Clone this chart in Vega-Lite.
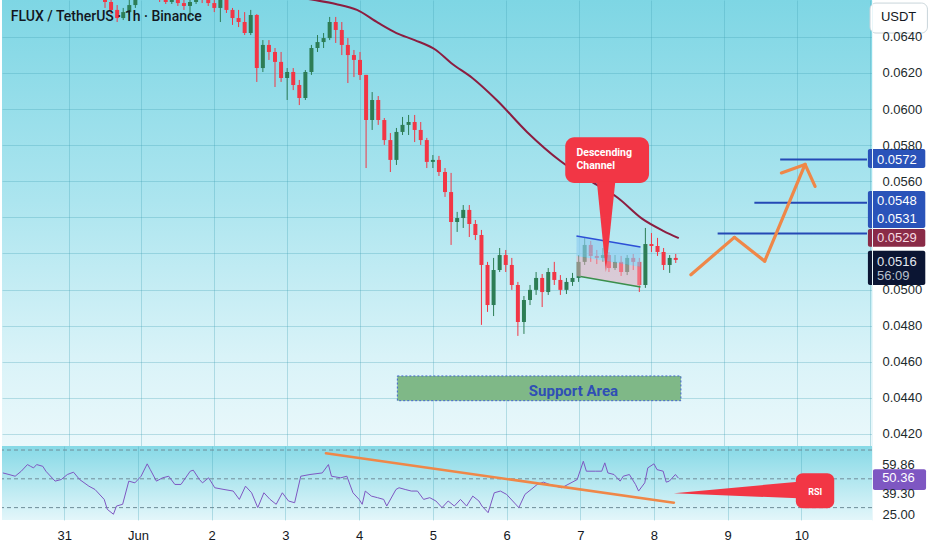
{
  "$schema": "https://vega.github.io/schema/vega-lite/v6.json",
  "background": "#ffffff",
  "padding": 0,
  "spacing": 0,
  "title": {"text": "FLUX / TetherUS · 1h · Binance", "anchor": "start", "frame": "bounds", "orient": "top", "offset": -24, "baseline": "top", "dx": 10, "font": "Roboto", "fontSize": 14, "fontWeight": 500, "color": "#131722"},
  "config": {
    "view": {"stroke": null},
    "axis": {"ticks": false, "tickSize": 0, "domain": false, "labelFont": "Liberation Sans", "labelFontSize": 13, "labelColor": "#1c2a2c", "gridColor": "#3f9fb3", "gridOpacity": 0.3, "labelOverlap": false}
  },
  "datasets": {
    "candles": [
      {"t":"2025-05-31T12:00Z","o":0.06659,"h":0.06687,"l":0.0656,"c":0.06593},
      {"t":"2025-05-31T14:00Z","o":0.06593,"h":0.06632,"l":0.06526,"c":0.06549},
      {"t":"2025-05-31T16:00Z","o":0.06549,"h":0.06576,"l":0.06482,"c":0.06504},
      {"t":"2025-05-31T18:00Z","o":0.06504,"h":0.0656,"l":0.06493,"c":0.06537},
      {"t":"2025-05-31T20:00Z","o":0.06537,"h":0.06604,"l":0.06521,"c":0.06576},
      {"t":"2025-05-31T22:00Z","o":0.06576,"h":0.0667,"l":0.0656,"c":0.06632},
      {"t":"2025-06-01T00:00Z","o":0.06632,"h":0.06704,"l":0.06615,"c":0.0667},
      {"t":"2025-06-01T02:00Z","o":0.0667,"h":0.06715,"l":0.06621,"c":0.06648},
      {"t":"2025-06-01T04:00Z","o":0.06648,"h":0.06682,"l":0.06604,"c":0.06626},
      {"t":"2025-06-01T06:00Z","o":0.06626,"h":0.06659,"l":0.06593,"c":0.06615},
      {"t":"2025-06-01T08:00Z","o":0.06615,"h":0.06637,"l":0.06582,"c":0.06593},
      {"t":"2025-06-01T10:00Z","o":0.06593,"h":0.06648,"l":0.06582,"c":0.06621},
      {"t":"2025-06-01T12:00Z","o":0.06621,"h":0.06637,"l":0.06571,"c":0.06587},
      {"t":"2025-06-01T14:00Z","o":0.06587,"h":0.06615,"l":0.06549,"c":0.06571},
      {"t":"2025-06-01T16:00Z","o":0.06571,"h":0.06615,"l":0.0651,"c":0.06593},
      {"t":"2025-06-01T18:00Z","o":0.06593,"h":0.06648,"l":0.06582,"c":0.06626},
      {"t":"2025-06-01T20:00Z","o":0.06626,"h":0.06648,"l":0.06587,"c":0.06604},
      {"t":"2025-06-01T22:00Z","o":0.06604,"h":0.06626,"l":0.06571,"c":0.06587},
      {"t":"2025-06-02T00:00Z","o":0.06587,"h":0.06615,"l":0.06537,"c":0.0656},
      {"t":"2025-06-02T02:00Z","o":0.0656,"h":0.06626,"l":0.06482,"c":0.06604},
      {"t":"2025-06-02T04:00Z","o":0.06604,"h":0.06626,"l":0.06532,"c":0.06549},
      {"t":"2025-06-02T06:00Z","o":0.06549,"h":0.0656,"l":0.06466,"c":0.06504},
      {"t":"2025-06-02T08:00Z","o":0.06504,"h":0.06549,"l":0.06454,"c":0.06482},
      {"t":"2025-06-02T10:00Z","o":0.06482,"h":0.06537,"l":0.0641,"c":0.06421},
      {"t":"2025-06-02T12:00Z","o":0.06421,"h":0.06549,"l":0.0641,"c":0.06521},
      {"t":"2025-06-02T14:00Z","o":0.06521,"h":0.06526,"l":0.0615,"c":0.06227},
      {"t":"2025-06-02T16:00Z","o":0.06227,"h":0.06382,"l":0.06205,"c":0.06355},
      {"t":"2025-06-02T18:00Z","o":0.06355,"h":0.06382,"l":0.06272,"c":0.06316},
      {"t":"2025-06-02T20:00Z","o":0.06316,"h":0.06338,"l":0.06122,"c":0.06261},
      {"t":"2025-06-02T22:00Z","o":0.06261,"h":0.06316,"l":0.0615,"c":0.06172},
      {"t":"2025-06-03T00:00Z","o":0.06172,"h":0.06227,"l":0.0605,"c":0.06205},
      {"t":"2025-06-03T02:00Z","o":0.06205,"h":0.06227,"l":0.06105,"c":0.06133},
      {"t":"2025-06-03T04:00Z","o":0.06133,"h":0.06161,"l":0.06022,"c":0.06061},
      {"t":"2025-06-03T06:00Z","o":0.06061,"h":0.06216,"l":0.0605,"c":0.06205},
      {"t":"2025-06-03T08:00Z","o":0.06205,"h":0.06355,"l":0.06189,"c":0.06338},
      {"t":"2025-06-03T10:00Z","o":0.06338,"h":0.0641,"l":0.06316,"c":0.06371},
      {"t":"2025-06-03T12:00Z","o":0.06371,"h":0.06421,"l":0.06338,"c":0.06393},
      {"t":"2025-06-03T14:00Z","o":0.06393,"h":0.0651,"l":0.06382,"c":0.06482},
      {"t":"2025-06-03T16:00Z","o":0.06482,"h":0.0651,"l":0.06366,"c":0.06438},
      {"t":"2025-06-03T18:00Z","o":0.06438,"h":0.06482,"l":0.06299,"c":0.06355},
      {"t":"2025-06-03T20:00Z","o":0.06355,"h":0.06393,"l":0.06144,"c":0.06299},
      {"t":"2025-06-03T22:00Z","o":0.06299,"h":0.06327,"l":0.06177,"c":0.06272},
      {"t":"2025-06-04T00:00Z","o":0.06272,"h":0.06316,"l":0.06161,"c":0.06189},
      {"t":"2025-06-04T02:00Z","o":0.06189,"h":0.06189,"l":0.05673,"c":0.05939},
      {"t":"2025-06-04T04:00Z","o":0.05939,"h":0.06094,"l":0.05884,"c":0.0605},
      {"t":"2025-06-04T06:00Z","o":0.0605,"h":0.06072,"l":0.05912,"c":0.05939},
      {"t":"2025-06-04T08:00Z","o":0.05939,"h":0.0595,"l":0.05801,"c":0.05828},
      {"t":"2025-06-04T10:00Z","o":0.05828,"h":0.05867,"l":0.05651,"c":0.05718},
      {"t":"2025-06-04T12:00Z","o":0.05718,"h":0.05895,"l":0.0569,"c":0.05873},
      {"t":"2025-06-04T14:00Z","o":0.05873,"h":0.05956,"l":0.05856,"c":0.05912},
      {"t":"2025-06-04T16:00Z","o":0.05912,"h":0.05967,"l":0.05856,"c":0.05928},
      {"t":"2025-06-04T18:00Z","o":0.05928,"h":0.05967,"l":0.05817,"c":0.05884},
      {"t":"2025-06-04T20:00Z","o":0.05884,"h":0.05928,"l":0.05801,"c":0.05828},
      {"t":"2025-06-04T22:00Z","o":0.05828,"h":0.0584,"l":0.05673,"c":0.05707},
      {"t":"2025-06-05T00:00Z","o":0.05707,"h":0.05745,"l":0.05673,"c":0.05718},
      {"t":"2025-06-05T02:00Z","o":0.05718,"h":0.0574,"l":0.05629,"c":0.05651},
      {"t":"2025-06-05T04:00Z","o":0.05651,"h":0.05673,"l":0.05513,"c":0.0554},
      {"t":"2025-06-05T06:00Z","o":0.0554,"h":0.05646,"l":0.05247,"c":0.05374},
      {"t":"2025-06-05T08:00Z","o":0.05374,"h":0.0543,"l":0.05319,"c":0.05396},
      {"t":"2025-06-05T10:00Z","o":0.05396,"h":0.05468,"l":0.05341,"c":0.05441},
      {"t":"2025-06-05T12:00Z","o":0.05441,"h":0.05468,"l":0.05291,"c":0.05363},
      {"t":"2025-06-05T14:00Z","o":0.05363,"h":0.05385,"l":0.05274,"c":0.05302},
      {"t":"2025-06-05T16:00Z","o":0.05302,"h":0.0533,"l":0.04804,"c":0.05136},
      {"t":"2025-06-05T18:00Z","o":0.05136,"h":0.05153,"l":0.04876,"c":0.04914},
      {"t":"2025-06-05T20:00Z","o":0.04914,"h":0.05175,"l":0.04853,"c":0.05108},
      {"t":"2025-06-05T22:00Z","o":0.05108,"h":0.0523,"l":0.05097,"c":0.05191},
      {"t":"2025-06-06T00:00Z","o":0.05191,"h":0.05219,"l":0.05097,"c":0.05136},
      {"t":"2025-06-06T02:00Z","o":0.05136,"h":0.05175,"l":0.04998,"c":0.05025},
      {"t":"2025-06-06T04:00Z","o":0.05025,"h":0.05042,"l":0.04743,"c":0.0482},
      {"t":"2025-06-06T06:00Z","o":0.0482,"h":0.04964,"l":0.04754,"c":0.04942},
      {"t":"2025-06-06T08:00Z","o":0.04942,"h":0.05025,"l":0.04914,"c":0.04998},
      {"t":"2025-06-06T10:00Z","o":0.04998,"h":0.05097,"l":0.0497,"c":0.05064},
      {"t":"2025-06-06T12:00Z","o":0.05064,"h":0.05086,"l":0.04903,"c":0.04986},
      {"t":"2025-06-06T14:00Z","o":0.04986,"h":0.05119,"l":0.0497,"c":0.05097},
      {"t":"2025-06-06T16:00Z","o":0.05097,"h":0.05153,"l":0.05025,"c":0.05053},
      {"t":"2025-06-06T18:00Z","o":0.05053,"h":0.0508,"l":0.0497,"c":0.04998},
      {"t":"2025-06-06T20:00Z","o":0.04998,"h":0.05064,"l":0.04975,"c":0.05042},
      {"t":"2025-06-06T22:00Z","o":0.05042,"h":0.05092,"l":0.0502,"c":0.05064},
      {"t":"2025-06-07T00:00Z","o":0.05064,"h":0.05191,"l":0.05042,"c":0.05153},
      {"t":"2025-06-07T02:00Z","o":0.05153,"h":0.05286,"l":0.05136,"c":0.05247},
      {"t":"2025-06-07T04:00Z","o":0.05247,"h":0.05269,"l":0.05153,"c":0.05186},
      {"t":"2025-06-07T06:00Z","o":0.05186,"h":0.05219,"l":0.05141,"c":0.05175},
      {"t":"2025-06-07T08:00Z","o":0.05175,"h":0.0523,"l":0.05153,"c":0.05191},
      {"t":"2025-06-07T10:00Z","o":0.05191,"h":0.05208,"l":0.05097,"c":0.05119},
      {"t":"2025-06-07T12:00Z","o":0.05119,"h":0.05191,"l":0.05108,"c":0.05153},
      {"t":"2025-06-07T14:00Z","o":0.05153,"h":0.05186,"l":0.05075,"c":0.05097},
      {"t":"2025-06-07T16:00Z","o":0.05097,"h":0.05191,"l":0.0508,"c":0.05175},
      {"t":"2025-06-07T18:00Z","o":0.05175,"h":0.05197,"l":0.05108,"c":0.05153},
      {"t":"2025-06-07T20:00Z","o":0.05153,"h":0.05175,"l":0.04986,"c":0.05025},
      {"t":"2025-06-07T22:00Z","o":0.05025,"h":0.05341,"l":0.05009,"c":0.05252},
      {"t":"2025-06-08T00:00Z","o":0.05252,"h":0.05313,"l":0.05208,"c":0.05241},
      {"t":"2025-06-08T02:00Z","o":0.05241,"h":0.05286,"l":0.05186,"c":0.05208},
      {"t":"2025-06-08T04:00Z","o":0.05208,"h":0.0523,"l":0.05108,"c":0.05136},
      {"t":"2025-06-08T06:00Z","o":0.05136,"h":0.05191,"l":0.05092,"c":0.05175},
      {"t":"2025-06-08T08:00Z","o":0.05175,"h":0.05197,"l":0.05147,"c":0.05164}
    ],
    "ma": [
      {"t":"2025-06-01T21:00Z","p":0.06682},
      {"t":"2025-06-02T16:00Z","p":0.06643},
      {"t":"2025-06-03T09:00Z","p":0.06604},
      {"t":"2025-06-03T16:00Z","p":0.06582},
      {"t":"2025-06-03T23:00Z","p":0.06549},
      {"t":"2025-06-04T06:00Z","p":0.06477},
      {"t":"2025-06-04T12:00Z","p":0.06421},
      {"t":"2025-06-04T18:00Z","p":0.06382},
      {"t":"2025-06-05T01:00Z","p":0.06327},
      {"t":"2025-06-05T06:00Z","p":0.06255},
      {"t":"2025-06-05T13:00Z","p":0.06172},
      {"t":"2025-06-05T21:00Z","p":0.0605},
      {"t":"2025-06-06T07:00Z","p":0.05873},
      {"t":"2025-06-06T18:00Z","p":0.05712},
      {"t":"2025-06-07T04:00Z","p":0.05601},
      {"t":"2025-06-07T13:00Z","p":0.05507},
      {"t":"2025-06-07T21:00Z","p":0.05391},
      {"t":"2025-06-08T04:00Z","p":0.05324},
      {"t":"2025-06-08T09:00Z","p":0.05285}
    ],
    "channel": [
      {"t":"2025-06-06T23:18Z","top":0.05297,"mid":0.05186,"bot":0.05075},
      {"t":"2025-06-07T20:24Z","top":0.05236,"mid":0.05125,"bot":0.05014}
    ],
    "segments": [
      {"kind":"chanTop","t1":"2025-06-06T23:18Z","p1":0.05297,"t2":"2025-06-07T20:24Z","p2":0.05236},
      {"kind":"chanBot","t1":"2025-06-07T00:36Z","p1":0.05072,"t2":"2025-06-07T20:24Z","p2":0.05014},
      {"kind":"target","t1":"2025-06-09T18:24Z","p1":0.0572,"t2":"2025-06-10T23:00Z","p2":0.0572},
      {"kind":"target","t1":"2025-06-09T09:54Z","p1":0.0548,"t2":"2025-06-10T23:00Z","p2":0.0548},
      {"kind":"target","t1":"2025-06-08T21:48Z","p1":0.0531,"t2":"2025-06-10T23:00Z","p2":0.0531},
      {"kind":"path","t1":"2025-06-08T13:00Z","p1":0.05082,"t2":"2025-06-09T03:18Z","p2":0.05289},
      {"kind":"path","t1":"2025-06-09T03:18Z","p1":0.05289,"t2":"2025-06-09T13:18Z","p2":0.05157},
      {"kind":"path","t1":"2025-06-09T13:18Z","p1":0.05157,"t2":"2025-06-10T02:36Z","p2":0.05693},
      {"kind":"path","t1":"2025-06-09T18:48Z","p1":0.05646,"t2":"2025-06-10T02:36Z","p2":0.05693},
      {"kind":"path","t1":"2025-06-10T02:36Z","p1":0.05693,"t2":"2025-06-10T05:54Z","p2":0.05571}
    ],
    "boxes": [
      {"kind":"support","t1":"2025-06-04T12:18Z","t2":"2025-06-08T09:42Z","p1":0.04521,"p2":0.04384},
      {"kind":"callout","t1":"2025-06-06T19:36Z","t2":"2025-06-07T23:12Z","p1":0.05843,"p2":0.0559}
    ],
    "pointer": [
      {"t":"2025-06-07T06:00Z","a":0.056,"b":0.056},
      {"t":"2025-06-07T09:00Z","a":0.056,"b":0.05097},
      {"t":"2025-06-07T12:06Z","a":0.056,"b":0.056}
    ],
    "notes": [
      {"kind":"callout","t":"2025-06-06T23:18Z","p":0.05755,"text":"Descending"},
      {"kind":"callout","t":"2025-06-06T23:18Z","p":0.05686,"text":"Channel"},
      {"kind":"support","t":"2025-06-06T22:18Z","p":0.04438,"text":"Support Area"}
    ],
    "tags": [
      {"kind":"usdt","p1":0.06587,"p2":0.06421},
      {"kind":"target","p1":0.05779,"p2":0.05673},
      {"kind":"target","p1":0.05546,"p2":0.05341},
      {"kind":"ma","p1":0.05335,"p2":0.05237},
      {"kind":"price","p1":0.05215,"p2":0.05025}
    ],
    "tagText": [
      {"kind":"usdt","p":0.0651,"text":"USDT"},
      {"kind":"target","p":0.0572,"text":"0.0572"},
      {"kind":"target","p":0.05492,"text":"0.0548"},
      {"kind":"target","p":0.05391,"text":"0.0531"},
      {"kind":"ma","p":0.05287,"text":"0.0529"},
      {"kind":"price","p":0.05154,"text":"0.0516"},
      {"kind":"timer","p":0.05077,"text":"56:09"}
    ],
    "rsi": [
      {"t":"2025-05-30T04:00Z","v":54.1},{"t":"2025-05-30T06:00Z","v":53.0},{"t":"2025-05-30T08:00Z","v":51.8},
      {"t":"2025-05-30T10:00Z","v":55.3},{"t":"2025-05-30T12:00Z","v":59.9},{"t":"2025-05-30T13:00Z","v":58.7},
      {"t":"2025-05-30T14:00Z","v":57.6},{"t":"2025-05-30T15:00Z","v":59.9},{"t":"2025-05-30T17:00Z","v":58.7},
      {"t":"2025-05-30T18:00Z","v":55.3},{"t":"2025-05-30T21:00Z","v":48.4},{"t":"2025-05-30T23:00Z","v":49.5},
      {"t":"2025-05-31T01:00Z","v":53.0},{"t":"2025-05-31T03:00Z","v":54.6},{"t":"2025-05-31T05:00Z","v":49.5},
      {"t":"2025-05-31T08:00Z","v":44.9},{"t":"2025-05-31T10:00Z","v":42.6},{"t":"2025-05-31T13:00Z","v":35.7},
      {"t":"2025-05-31T14:00Z","v":28.8},{"t":"2025-05-31T16:00Z","v":25.4},{"t":"2025-05-31T17:00Z","v":31.1},
      {"t":"2025-05-31T19:00Z","v":32.3},{"t":"2025-05-31T21:00Z","v":48.4},{"t":"2025-05-31T23:00Z","v":47.2},
      {"t":"2025-06-01T01:00Z","v":51.8},{"t":"2025-06-01T03:00Z","v":60.4},{"t":"2025-06-01T04:00Z","v":56.4},
      {"t":"2025-06-01T06:00Z","v":48.4},{"t":"2025-06-01T08:00Z","v":50.7},{"t":"2025-06-01T10:00Z","v":51.8},
      {"t":"2025-06-01T12:00Z","v":46.1},{"t":"2025-06-01T14:00Z","v":46.1},{"t":"2025-06-01T17:00Z","v":55.3},
      {"t":"2025-06-01T18:00Z","v":56.0},{"t":"2025-06-01T20:00Z","v":49.5},{"t":"2025-06-01T21:00Z","v":47.2},
      {"t":"2025-06-01T23:00Z","v":50.7},{"t":"2025-06-02T01:00Z","v":43.8},{"t":"2025-06-02T04:00Z","v":42.6},
      {"t":"2025-06-02T07:00Z","v":41.5},{"t":"2025-06-02T09:00Z","v":35.7},{"t":"2025-06-02T11:00Z","v":44.9},
      {"t":"2025-06-02T13:00Z","v":40.3},{"t":"2025-06-02T15:00Z","v":30.0},{"t":"2025-06-02T17:00Z","v":40.3},
      {"t":"2025-06-02T19:00Z","v":35.7},{"t":"2025-06-02T21:00Z","v":32.3},{"t":"2025-06-02T23:00Z","v":40.3},
      {"t":"2025-06-03T01:00Z","v":34.6},{"t":"2025-06-03T03:00Z","v":33.4},{"t":"2025-06-03T05:00Z","v":51.8},
      {"t":"2025-06-03T08:00Z","v":53.0},{"t":"2025-06-03T12:00Z","v":54.1},{"t":"2025-06-03T14:00Z","v":59.9},
      {"t":"2025-06-03T15:00Z","v":51.8},{"t":"2025-06-03T18:00Z","v":50.7},{"t":"2025-06-03T20:00Z","v":51.8},
      {"t":"2025-06-03T22:00Z","v":40.3},{"t":"2025-06-04T00:00Z","v":35.7},{"t":"2025-06-04T01:00Z","v":32.3},
      {"t":"2025-06-04T02:00Z","v":41.5},{"t":"2025-06-04T04:00Z","v":38.0},{"t":"2025-06-04T06:00Z","v":36.9},
      {"t":"2025-06-04T08:00Z","v":35.7},{"t":"2025-06-04T09:00Z","v":31.1},{"t":"2025-06-04T12:00Z","v":42.6},
      {"t":"2025-06-04T13:00Z","v":43.8},{"t":"2025-06-04T15:00Z","v":42.6},{"t":"2025-06-04T17:00Z","v":41.5},
      {"t":"2025-06-04T19:00Z","v":41.5},{"t":"2025-06-04T21:00Z","v":35.7},{"t":"2025-06-04T23:00Z","v":36.9},
      {"t":"2025-06-05T01:00Z","v":34.6},{"t":"2025-06-05T03:00Z","v":30.0},{"t":"2025-06-05T05:00Z","v":34.6},
      {"t":"2025-06-05T07:00Z","v":31.1},{"t":"2025-06-05T09:00Z","v":35.7},{"t":"2025-06-05T11:00Z","v":31.1},
      {"t":"2025-06-05T13:00Z","v":38.0},{"t":"2025-06-05T15:00Z","v":34.6},{"t":"2025-06-05T16:00Z","v":31.1},
      {"t":"2025-06-05T18:00Z","v":26.5},{"t":"2025-06-05T20:00Z","v":40.3},{"t":"2025-06-05T22:00Z","v":41.5},
      {"t":"2025-06-06T00:00Z","v":39.2},{"t":"2025-06-06T02:00Z","v":34.6},{"t":"2025-06-06T04:00Z","v":30.0},
      {"t":"2025-06-06T06:00Z","v":39.2},{"t":"2025-06-06T08:00Z","v":42.6},{"t":"2025-06-06T10:00Z","v":46.1},
      {"t":"2025-06-06T12:00Z","v":47.7},{"t":"2025-06-06T14:00Z","v":46.1},{"t":"2025-06-06T16:00Z","v":44.9},
      {"t":"2025-06-06T18:00Z","v":43.8},{"t":"2025-06-06T20:00Z","v":46.1},{"t":"2025-06-06T21:00Z","v":47.2},
      {"t":"2025-06-06T23:00Z","v":49.5},{"t":"2025-06-07T01:00Z","v":62.2},{"t":"2025-06-07T02:00Z","v":55.3},
      {"t":"2025-06-07T05:00Z","v":55.3},{"t":"2025-06-07T07:00Z","v":55.3},{"t":"2025-06-07T08:00Z","v":61.1},
      {"t":"2025-06-07T09:00Z","v":54.1},{"t":"2025-06-07T11:00Z","v":53.0},{"t":"2025-06-07T13:00Z","v":48.4},
      {"t":"2025-06-07T14:00Z","v":51.8},{"t":"2025-06-07T16:00Z","v":53.0},{"t":"2025-06-07T17:00Z","v":49.5},
      {"t":"2025-06-07T18:00Z","v":46.1},{"t":"2025-06-07T19:00Z","v":41.5},{"t":"2025-06-07T21:00Z","v":47.2},
      {"t":"2025-06-07T22:00Z","v":57.6},{"t":"2025-06-08T00:00Z","v":60.4},{"t":"2025-06-08T01:00Z","v":56.4},
      {"t":"2025-06-08T03:00Z","v":55.3},{"t":"2025-06-08T04:00Z","v":47.7},{"t":"2025-06-08T05:00Z","v":48.4},
      {"t":"2025-06-08T07:00Z","v":53.0},{"t":"2025-06-08T08:00Z","v":50.4}
    ],
    "rsiLevels": [{"v":70},{"v":50},{"v":30}],
    "rsiTrend": [{"t1":"2025-06-03T13:12Z","v1":67.73,"t2":"2025-06-08T06:30Z","v2":33.43}],
    "rsiWedge": [
      {"t":"2025-06-08T06:30Z","a":39.95,"b":39.95},
      {"t":"2025-06-09T23:00Z","a":48.0,"b":36.48}
    ],
    "rsiBox": [{"t1":"2025-06-09T22:12Z","t2":"2025-06-10T10:42Z","v1":53.84,"v2":29.54}],
    "rsiNote": [{"t":"2025-06-10T04:30Z","v":41.06,"text":"RSI"}],
    "rsiTag": [{"v1":56.62,"v2":42.24,"v":50.36,"text":"50.36"}],
    "rsiLabels": [{"v":59.86,"text":"59.86"},{"v":39.3,"text":"39.30"}]
  },
  "vconcat": [
    {
      "width": 870,
      "height": 446,
      "view": {"stroke": null, "fill": {"gradient":"linear","x1":0,"y1":0,"x2":0,"y2":1,"stops":[{"offset":0,"color":"#7ed6e4"},{"offset":0.45,"color":"#ace5ef"},{"offset":0.8,"color":"#d9f3f8"},{"offset":1,"color":"#eaf8fb"}]}},
      "resolve": {"axis": {"y": "independent"}},
      "layer": [
        {
          "mark": {"type": "rect", "color": {"gradient":"linear","x1":0,"y1":0,"x2":0,"y2":1,"stops":[{"offset":0,"color":"#7ed6e4"},{"offset":0.45,"color":"#ace5ef"},{"offset":0.8,"color":"#d9f3f8"},{"offset":1,"color":"#eaf8fb"}]}},
          "encoding": {
            "x": {"datum": {"year":2025,"month":6,"date":10,"hours":23,"utc":true}, "type": "temporal", "title": null,
              "scale": {"type": "utc", "domain": [{"year":2025,"month":5,"date":30,"hours":3,"minutes":43,"utc":true}, {"year":2025,"month":6,"date":10,"hours":23,"utc":true}]},
              "axis": {"orient": "bottom", "labels": false, "grid": true, "ticks": false, "domain": false, "title": null, "tickCount": {"interval": "day", "step": 1}}},
            "x2": {"datum": {"year":2025,"month":6,"date":11,"hours":19,"minutes":12,"utc":true}},
            "y": {"datum": 0.04133, "type": "quantitative", "title": null,
              "scale": {"domain": [0.04133, 0.06604], "nice": false, "zero": false},
              "axis": {"orient": "right", "grid": false, "zindex": 1, "title": null, "values": [0.042,0.044,0.046,0.048,0.05,0.056,0.058,0.06,0.062,0.064], "format": ".4f", "labelPadding": 10, "domain": true, "domainColor": "#eaf7fa", "domainWidth": 1}},
            "y2": {"datum": 0.06604}
          }
        },
        {
          "data": {"name": "candles"},
          "mark": {"type": "rule", "clip": true, "strokeWidth": 1},
          "encoding": {
            "x": {"field": "t", "type": "temporal", "title": null},
            "y": {"field": "l", "type": "quantitative", "title": null,
              "axis": {"orient": "left", "labels": false, "ticks": false, "domain": false, "grid": true, "title": null, "values": [0.042,0.044,0.046,0.048,0.05,0.052,0.054,0.056,0.058,0.06,0.062,0.064]}},
            "y2": {"field": "h"},
            "color": {"condition": {"test": "datum.c >= datum.o", "value": "#2d7d55"}, "value": "#f23645"}
          }
        },
        {
          "data": {"name": "candles"},
          "mark": {"type": "bar", "clip": true, "width": 4},
          "encoding": {
            "x": {"field": "t", "type": "temporal", "title": null},
            "y": {"field": "o", "type": "quantitative", "axis": null},
            "y2": {"field": "c"},
            "color": {"condition": {"test": "datum.c >= datum.o", "value": "#2d7d55"}, "value": "#f23645"}
          }
        },
        {
          "data": {"name": "ma"},
          "mark": {"type": "line", "clip": true, "interpolate": "monotone", "color": "#8c1d40", "strokeWidth": 2},
          "encoding": {
            "x": {"field": "t", "type": "temporal", "title": null},
            "y": {"field": "p", "type": "quantitative", "axis": null}
          }
        },
        {
          "mark": {"type": "rule", "color": "#1b2230", "strokeDash": [1.5, 3], "strokeWidth": 1.3},
          "encoding": {
            "y": {"datum": 0.0516, "type": "quantitative", "axis": null}
          }
        },
        {
          "data": {"name": "channel"},
          "mark": {"type": "area", "color": "#8fcdf0", "opacity": 0.65},
          "encoding": {
            "x": {"field": "t", "type": "temporal", "title": null},
            "y": {"field": "top", "type": "quantitative", "axis": null},
            "y2": {"field": "mid"}
          }
        },
        {
          "data": {"name": "channel"},
          "mark": {"type": "area", "color": "#f1aab9", "opacity": 0.5},
          "encoding": {
            "x": {"field": "t", "type": "temporal", "title": null},
            "y": {"field": "mid", "type": "quantitative", "axis": null},
            "y2": {"field": "bot"}
          }
        },
        {
          "data": {"name": "segments"},
          "transform": [{"filter": "datum.kind == 'chanTop'"}],
          "mark": {"type": "rule", "color": "#2d4fd6", "strokeWidth": 1.5},
          "encoding": {
            "x": {"field": "t1", "type": "temporal", "title": null},
            "x2": {"field": "t2"},
            "y": {"field": "p1", "type": "quantitative", "axis": null},
            "y2": {"field": "p2"}
          }
        },
        {
          "data": {"name": "segments"},
          "transform": [{"filter": "datum.kind == 'chanBot'"}],
          "mark": {"type": "rule", "color": "#3a8f4c", "strokeWidth": 1.5},
          "encoding": {
            "x": {"field": "t1", "type": "temporal", "title": null},
            "x2": {"field": "t2"},
            "y": {"field": "p1", "type": "quantitative", "axis": null},
            "y2": {"field": "p2"}
          }
        },
        {
          "data": {"name": "boxes"},
          "transform": [{"filter": "datum.kind == 'support'"}],
          "mark": {"type": "rect", "fill": "#7fb887", "stroke": "#3f62cf", "strokeWidth": 1, "strokeDash": [2, 2]},
          "encoding": {
            "x": {"field": "t1", "type": "temporal", "title": null},
            "x2": {"field": "t2"},
            "y": {"field": "p1", "type": "quantitative", "axis": null},
            "y2": {"field": "p2"}
          }
        },
        {
          "data": {"name": "boxes"},
          "transform": [{"filter": "datum.kind == 'callout'"}],
          "mark": {"type": "rect", "fill": "#f23645", "cornerRadius": 9},
          "encoding": {
            "x": {"field": "t1", "type": "temporal", "title": null},
            "x2": {"field": "t2"},
            "y": {"field": "p1", "type": "quantitative", "axis": null},
            "y2": {"field": "p2"}
          }
        },
        {
          "data": {"name": "pointer"},
          "mark": {"type": "area", "color": "#f23645"},
          "encoding": {
            "x": {"field": "t", "type": "temporal", "title": null},
            "y": {"field": "a", "type": "quantitative", "axis": null},
            "y2": {"field": "b"}
          }
        },
        {
          "data": {"name": "notes"},
          "transform": [{"filter": "datum.kind == 'callout'"}],
          "mark": {"type": "text", "align": "left", "baseline": "middle", "font": "Roboto", "fontSize": 10.5, "fontWeight": "bold", "color": "#ffffff"},
          "encoding": {
            "x": {"field": "t", "type": "temporal", "title": null},
            "y": {"field": "p", "type": "quantitative", "axis": null},
            "text": {"field": "text"}
          }
        },
        {
          "data": {"name": "notes"},
          "transform": [{"filter": "datum.kind == 'support'"}],
          "mark": {"type": "text", "align": "center", "baseline": "middle", "font": "Roboto", "fontSize": 15, "fontWeight": "bold", "color": "#2f4fb5"},
          "encoding": {
            "x": {"field": "t", "type": "temporal", "title": null},
            "y": {"field": "p", "type": "quantitative", "axis": null},
            "text": {"field": "text"}
          }
        },
        {
          "data": {"name": "segments"},
          "transform": [{"filter": "datum.kind == 'target'"}],
          "mark": {"type": "rule", "color": "#2449b5", "strokeWidth": 2},
          "encoding": {
            "x": {"field": "t1", "type": "temporal", "title": null},
            "x2": {"field": "t2"},
            "y": {"field": "p1", "type": "quantitative", "axis": null},
            "y2": {"field": "p2"}
          }
        },
        {
          "data": {"name": "segments"},
          "transform": [{"filter": "datum.kind == 'path'"}],
          "mark": {"type": "rule", "color": "#ef8748", "strokeWidth": 3.2, "strokeCap": "round"},
          "encoding": {
            "x": {"field": "t1", "type": "temporal", "title": null},
            "x2": {"field": "t2"},
            "y": {"field": "p1", "type": "quantitative", "axis": null},
            "y2": {"field": "p2"}
          }
        },
        {
          "data": {"name": "tags"},
          "transform": [{"filter": "datum.kind == 'usdt'"}],
          "mark": {"type": "rect", "fill": "#ffffff", "stroke": "#c9d5da", "strokeWidth": 1, "cornerRadius": 6},
          "encoding": {
            "x": {"datum": {"year":2025,"month":6,"date":11,"hours":0,"utc":true}, "type": "temporal", "title": null},
            "x2": {"datum": {"year":2025,"month":6,"date":11,"hours":18,"minutes":54,"utc":true}},
            "y": {"field": "p1", "type": "quantitative", "axis": null},
            "y2": {"field": "p2"}
          }
        },
        {
          "data": {"name": "tags"},
          "transform": [{"filter": "datum.kind != 'usdt'"}],
          "mark": {"type": "rect", "cornerRadius": 2},
          "encoding": {
            "x": {"datum": {"year":2025,"month":6,"date":10,"hours":23,"minutes":18,"utc":true}, "type": "temporal", "title": null},
            "x2": {"datum": {"year":2025,"month":6,"date":11,"hours":18,"minutes":12,"utc":true}},
            "y": {"field": "p1", "type": "quantitative", "axis": null},
            "y2": {"field": "p2"},
            "fill": {"field": "kind", "type": "nominal", "legend": null, "scale": {"domain": ["target", "ma", "price"], "range": ["#2a53b9", "#8a2b47", "#0b1533"]}}
          }
        },
        {
          "data": {"name": "tagText"},
          "transform": [{"filter": "datum.kind == 'usdt'"}],
          "mark": {"type": "text", "align": "center", "baseline": "middle", "font": "Liberation Sans", "fontSize": 13, "color": "#131722"},
          "encoding": {
            "x": {"datum": {"year":2025,"month":6,"date":11,"hours":9,"minutes":24,"utc":true}, "type": "temporal", "title": null},
            "y": {"field": "p", "type": "quantitative", "axis": null},
            "text": {"field": "text"}
          }
        },
        {
          "data": {"name": "tagText"},
          "transform": [{"filter": "datum.kind != 'usdt'"}],
          "mark": {"type": "text", "align": "left", "baseline": "middle", "font": "Liberation Sans", "fontSize": 13},
          "encoding": {
            "x": {"datum": {"year":2025,"month":6,"date":11,"hours":2,"minutes":18,"utc":true}, "type": "temporal", "title": null},
            "y": {"field": "p", "type": "quantitative", "axis": null},
            "text": {"field": "text"},
            "color": {"field": "kind", "type": "nominal", "legend": null, "scale": {"domain": ["target", "ma", "price", "timer"], "range": ["#ffffff", "#f7dce2", "#e4e8ef", "#b8c0cc"]}}
          }
        }
      ]
    },
    {
      "width": 870,
      "height": 74,
      "view": {"stroke": null, "fill": {"gradient":"linear","x1":0,"y1":0,"x2":0,"y2":1,"stops":[{"offset":0,"color":"#86d9e6"},{"offset":1,"color":"#e3f6fa"}]}},
      "layer": [
        {
          "mark": {"type": "rect", "color": {"gradient":"linear","x1":0,"y1":0,"x2":0,"y2":1,"stops":[{"offset":0,"color":"#86d9e6"},{"offset":1,"color":"#e3f6fa"}]}},
          "encoding": {
            "x": {"datum": {"year":2025,"month":6,"date":10,"hours":23,"utc":true}, "type": "temporal", "title": null,
              "scale": {"type": "utc", "domain": [{"year":2025,"month":5,"date":30,"hours":3,"minutes":43,"utc":true}, {"year":2025,"month":6,"date":10,"hours":23,"utc":true}]},
              "axis": {"orient": "bottom", "grid": true, "ticks": false, "domain": false, "title": null, "tickCount": {"interval": "day", "step": 1}, "labelExpr": "utcFormat(datum.value, '%d') == '01' ? utcFormat(datum.value, '%b') : utcFormat(datum.value, '%-d')", "labelPadding": 9, "labelFlush": false, "labelColor": "#131722"}},
            "x2": {"datum": {"year":2025,"month":6,"date":11,"hours":19,"minutes":12,"utc":true}},
            "y": {"datum": 21.4, "type": "quantitative", "title": null,
              "scale": {"domain": [21.4, 72.8], "nice": false, "zero": false},
              "axis": {"orient": "right", "grid": false, "zindex": 1, "title": null, "values": [25], "format": ".2f", "labelPadding": 10, "domain": true, "domainColor": "#eaf7fa", "domainWidth": 1}},
            "y2": {"datum": 72.8}
          }
        },
        {
          "data": {"name": "rsiLevels"},
          "mark": {"type": "rule", "color": "#6f8d99", "strokeDash": [4, 3], "strokeWidth": 1},
          "encoding": {
            "y": {"field": "v", "type": "quantitative", "title": null}
          }
        },
        {
          "data": {"name": "rsi"},
          "mark": {"type": "line", "color": "#7e57c2", "strokeWidth": 1},
          "encoding": {
            "x": {"field": "t", "type": "temporal", "title": null},
            "y": {"field": "v", "type": "quantitative", "title": null}
          }
        },
        {
          "data": {"name": "rsiTrend"},
          "mark": {"type": "rule", "color": "#ef8748", "strokeWidth": 2.5, "strokeCap": "round"},
          "encoding": {
            "x": {"field": "t1", "type": "temporal", "title": null},
            "x2": {"field": "t2"},
            "y": {"field": "v1", "type": "quantitative", "title": null},
            "y2": {"field": "v2"}
          }
        },
        {
          "data": {"name": "rsiWedge"},
          "mark": {"type": "area", "color": "#f23645"},
          "encoding": {
            "x": {"field": "t", "type": "temporal", "title": null},
            "y": {"field": "a", "type": "quantitative", "title": null},
            "y2": {"field": "b"}
          }
        },
        {
          "data": {"name": "rsiBox"},
          "mark": {"type": "rect", "fill": "#f23645", "cornerRadius": 7},
          "encoding": {
            "x": {"field": "t1", "type": "temporal", "title": null},
            "x2": {"field": "t2"},
            "y": {"field": "v1", "type": "quantitative", "title": null},
            "y2": {"field": "v2"}
          }
        },
        {
          "data": {"name": "rsiNote"},
          "mark": {"type": "text", "align": "center", "baseline": "middle", "font": "Roboto", "fontSize": 9, "fontWeight": "bold", "color": "#ffffff"},
          "encoding": {
            "x": {"field": "t", "type": "temporal", "title": null},
            "y": {"field": "v", "type": "quantitative", "title": null},
            "text": {"field": "text"}
          }
        },
        {
          "data": {"name": "rsiTag"},
          "mark": {"type": "rect", "fill": "#7e57c2", "cornerRadius": 2},
          "encoding": {
            "x": {"datum": {"year":2025,"month":6,"date":10,"hours":23,"minutes":18,"utc":true}, "type": "temporal", "title": null},
            "x2": {"datum": {"year":2025,"month":6,"date":11,"hours":16,"minutes":36,"utc":true}},
            "y": {"field": "v1", "type": "quantitative", "title": null},
            "y2": {"field": "v2"}
          }
        },
        {
          "data": {"name": "rsiTag"},
          "mark": {"type": "text", "align": "left", "baseline": "middle", "font": "Liberation Sans", "fontSize": 13, "color": "#ffffff"},
          "encoding": {
            "x": {"datum": {"year":2025,"month":6,"date":11,"hours":2,"minutes":18,"utc":true}, "type": "temporal", "title": null},
            "y": {"field": "v", "type": "quantitative", "title": null},
            "text": {"field": "text"}
          }
        },
        {
          "data": {"name": "rsiLabels"},
          "mark": {"type": "text", "align": "left", "baseline": "middle", "font": "Liberation Sans", "fontSize": 13, "color": "#1c2a2c"},
          "encoding": {
            "x": {"datum": {"year":2025,"month":6,"date":11,"hours":2,"minutes":18,"utc":true}, "type": "temporal", "title": null},
            "y": {"field": "v", "type": "quantitative", "title": null},
            "text": {"field": "text"}
          }
        },
        {
          "mark": {"type": "rule", "color": "#2e6d5c", "strokeWidth": 2},
          "encoding": {
            "x": {"datum": {"year":2025,"month":5,"date":30,"hours":3,"minutes":43,"utc":true}, "type": "temporal", "title": null},
            "x2": {"datum": {"year":2025,"month":6,"date":11,"hours":19,"minutes":12,"utc":true}},
            "y": {"datum": 72.8, "type": "quantitative", "title": null}
          }
        }
      ]
    }
  ],
  "resolve": {"scale": {"y": "independent"}}
}
